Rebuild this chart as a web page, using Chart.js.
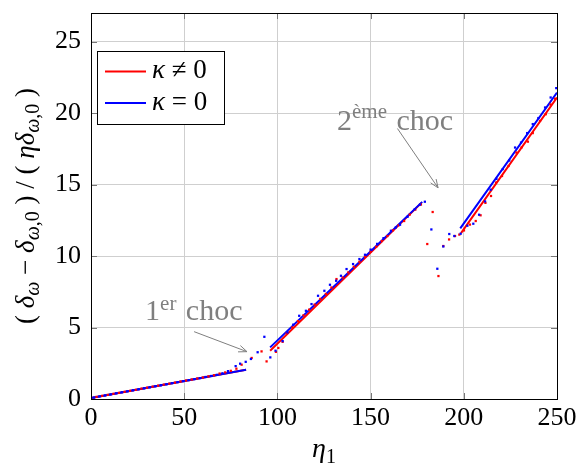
<!DOCTYPE html>
<html>
<head>
<meta charset="utf-8">
<script src="https://cdn.jsdelivr.net/npm/chart.js@4"></script>
<style>
html,body{margin:0;padding:0;background:#fff;}
#wrap{width:579px;height:466px;}
</style>
</head>
<body>
<div id="wrap"><canvas id="c" width="579" height="466"></canvas></div>
<script>
// ---- data ----
const xTicks = [0, 50, 100, 150, 200, 250];
const yTicks = [0, 5, 10, 15, 20, 25];
const seriesNames = ["κ ≠ 0", "κ = 0"];

// fitted line segments (null = gap between shocks)
const redLineX  = [0, 83.2, 89, 96.1, 177.3, 188, 198.5, 250];
const redLineY  = [0.07, 2.05, null, 3.38, 13.72, null, 11.6, 21.09];
const blueLineX = [0, 83.2, 89, 96.1, 177.7, 188, 198.1, 250];
const blueLineY = [0.07, 2.05, null, 3.61, 13.79, null, 11.93, 21.43];

// simulated points, kappa != 0 (red)
const redDotX = [0,3,6,9,12,15,18,21,24,27,30,33,36,39,42,45,48,51,54,57,60,63,66,69,72,75,78,80.8,86.2,91.5,94.2,99.2,100.5,102.8,105,108,111,114,117,120,123,126,129,131.7,135,138,141,144,147,150,153,156,159,162,165,168,171,174,177,180.4,183.3,186.4,189,192.1,195.3,197.6,200.1,203.3,206.4,209,211.6,214.6,217.3,220.5,224,228.2,231,234.4,237,240.9,244,246.5,249];
const redDotY = [0.08,0.15,0.22,0.29,0.36,0.43,0.5,0.57,0.64,0.72,0.79,0.86,0.93,1.0,1.07,1.14,1.22,1.29,1.36,1.43,1.5,1.58,1.66,1.78,1.86,1.97,2.12,2.4,2.87,3.33,2.63,3.3,3.57,4.0,4.6,5.0,5.45,5.85,6.25,6.6,7.0,7.35,7.8,8.39,8.5,8.85,9.25,9.6,9.95,10.3,10.65,11.05,11.4,11.8,12.15,12.45,12.9,13.25,13.6,10.84,13.08,8.6,10.7,11.16,11.4,11.5,11.79,12.2,12.45,12.85,13.72,14.2,15.14,15.6,16.3,17.24,17.6,18.0,18.6,19.45,19.92,20.6,21.0];

// simulated points, kappa = 0 (blue)
const blueDotX = [1.5,4.5,7.5,10.5,13.5,16.5,19.5,22.5,25.5,28.5,31.5,34.5,37.5,40.5,43.5,46.5,49.5,52.5,55.5,58.5,61.5,64.5,67.5,70.5,73.5,77.6,80,83,85.8,89.4,93,96.2,99,102.8,105.4,108.5,111.7,115.3,118.3,121.8,125.2,128.2,131.5,134.1,137.1,140.6,144,147,150,153.5,156.9,160.9,163.5,165.8,169.8,173.7,176.5,179.1,182.6,185.8,189,192.2,194.9,198.3,201.9,205.1,208.2,211.4,214.4,217.5,220.9,224.4,227.5,230.7,234,237,240,243.6,246.6,249.6];
const blueDotY = [0.1,0.18,0.25,0.32,0.4,0.47,0.54,0.61,0.68,0.75,0.82,0.89,0.96,1.03,1.11,1.18,1.25,1.32,1.39,1.46,1.54,1.61,1.69,1.8,1.95,2.3,2.47,2.6,2.8,3.27,4.35,2.91,3.38,4.05,4.66,5.2,5.82,6.17,6.64,7.22,7.57,7.99,8.27,8.62,9.09,9.44,9.79,10.09,10.45,10.85,11.25,11.77,12.0,12.19,12.74,13.28,13.6,13.8,11.86,9.11,10.67,11.54,11.4,11.56,12.12,12.26,12.89,13.82,14.64,15.4,16.08,16.68,17.59,17.94,18.6,19.23,19.65,20.39,21.09,21.75];

// ---- helpers ----
const zip = (xs, ys) => xs.map((x, i) => ({x: x, y: ys[i]}));
const SERIF = '"Liberation Serif", "DejaVu Serif", serif';
const RED = '#ff0000', BLUE = '#0000ff', GRAY = '#7f7f7f';
function fnt(p){ return (p.it ? 'italic ' : '') + p.size + 'px ' + SERIF; }
function measureParts(ctx, parts){ let w = 0; for (const p of parts){ ctx.font = fnt(p); w += ctx.measureText(p.t).width + (p.gap || 0); } return w; }
function drawParts(ctx, parts, x, y){ for (const p of parts){ ctx.font = fnt(p); ctx.fillText(p.t, x, y + (p.dy || 0)); x += ctx.measureText(p.t).width + (p.gap || 0); } return x; }
function arrow(ctx, x1, y1, x2, y2){
  ctx.save();
  ctx.strokeStyle = GRAY; ctx.lineWidth = 1;
  ctx.beginPath(); ctx.moveTo(x1, y1); ctx.lineTo(x2, y2); ctx.stroke();
  const a = Math.atan2(y2 - y1, x2 - x1), L = 9, s = 0.38;
  ctx.beginPath();
  ctx.moveTo(x2 - L*Math.cos(a - s), y2 - L*Math.sin(a - s));
  ctx.lineTo(x2, y2);
  ctx.lineTo(x2 - L*Math.cos(a + s), y2 - L*Math.sin(a + s));
  ctx.stroke();
  ctx.restore();
}

const decor = {
  id: 'decor',
  afterDraw(chart){
    const ctx = chart.ctx, ca = chart.chartArea, xs = chart.scales.x, ys = chart.scales.y;
    ctx.save();
    // inner ticks
    ctx.strokeStyle = '#777'; ctx.lineWidth = 1;
    for (const v of xTicks){ const px = Math.round(xs.getPixelForValue(v)) + 0.5;
      ctx.beginPath(); ctx.moveTo(px, ca.bottom); ctx.lineTo(px, ca.bottom - 6); ctx.moveTo(px, ca.top); ctx.lineTo(px, ca.top + 6); ctx.stroke(); }
    for (const v of yTicks){ const py = Math.round(ys.getPixelForValue(v)) + 0.5;
      ctx.beginPath(); ctx.moveTo(ca.left, py); ctx.lineTo(ca.left + 6, py); ctx.moveTo(ca.right, py); ctx.lineTo(ca.right - 6, py); ctx.stroke(); }
    // frame
    ctx.strokeStyle = '#000'; ctx.lineWidth = 1;
    ctx.strokeRect(Math.round(ca.left) + 0.5, Math.round(ca.top) + 0.5, Math.round(ca.right - ca.left), Math.round(ca.bottom - ca.top));

    // legend
    const lx = 97, ly = 51, lw = 127, lh = 73;
    ctx.fillStyle = '#fff'; ctx.fillRect(lx, ly, lw, lh);
    ctx.strokeStyle = '#000'; ctx.strokeRect(lx + 0.5, ly + 0.5, lw, lh);
    ctx.lineWidth = 2;
    ctx.strokeStyle = RED; ctx.beginPath(); ctx.moveTo(105, 71.5); ctx.lineTo(146, 71.5); ctx.stroke();
    ctx.strokeStyle = BLUE; ctx.beginPath(); ctx.moveTo(105, 103); ctx.lineTo(146, 103); ctx.stroke();
    ctx.fillStyle = '#000'; ctx.textBaseline = 'alphabetic'; ctx.textAlign = 'left';
    drawParts(ctx, [{t: 'κ', it: true, size: 27}, {t: ' ≠ 0', size: 27}], 152, 78);
    drawParts(ctx, [{t: 'κ', it: true, size: 27}, {t: ' = 0', size: 27}], 152, 110);

    // annotations
    ctx.fillStyle = GRAY;
    let ax = xs.getPixelForValue(29.0), ay = ys.getPixelForValue(5.5);
    drawParts(ctx, [{t: '1', size: 30}, {t: 'er', size: 21, dy: -10, gap: 2}, {t: ' choc', size: 30}], ax, ay);
    ax = xs.getPixelForValue(132.0); ay = ys.getPixelForValue(18.83);
    drawParts(ctx, [{t: '2', size: 30}, {t: 'ème', size: 21, dy: -12, gap: 2}, {t: ' choc', size: 30}], ax, ay);
    arrow(ctx, xs.getPixelForValue(55.3), ys.getPixelForValue(4.71), xs.getPixelForValue(83.7), ys.getPixelForValue(3.31));
    arrow(ctx, xs.getPixelForValue(164.4), ys.getPixelForValue(18.92), xs.getPixelForValue(186.2), ys.getPixelForValue(14.77));

    // x title
    ctx.fillStyle = '#000';
    const xt = [{t: 'η', it: true, size: 28}, {t: '1', size: 20, dy: 6}];
    const xw = measureParts(ctx, xt);
    drawParts(ctx, xt, (ca.left + ca.right) / 2 - xw / 2, 457);

    // y title
    const S = 27, s = 20, d = 5;
    const yt = [
      {t: '( ', size: S}, {t: 'δ', it: true, size: S}, {t: 'ω', it: true, size: s, dy: d},
      {t: ' − ', size: S}, {t: 'δ', it: true, size: S}, {t: 'ω', it: true, size: s, dy: d}, {t: ',0', size: s, dy: d},
      {t: ' ) / ( ', size: S}, {t: 'η', it: true, size: S}, {t: 'δ', it: true, size: S},
      {t: 'ω', it: true, size: s, dy: d}, {t: ',0', size: s, dy: d}, {t: ' )', size: S}
    ];
    const yw = measureParts(ctx, yt);
    ctx.translate(34, (ca.top + ca.bottom) / 2);
    ctx.rotate(-Math.PI / 2);
    drawParts(ctx, yt, -yw / 2, 0);
    ctx.restore();
  }
};

new Chart(document.getElementById('c'), {
  type: 'line',
  data: {
    datasets: [
      {label: seriesNames[1] + ' pts', data: zip(blueDotX, blueDotY), showLine: false, pointStyle: 'rect', pointRadius: 1.6, pointBorderWidth: 0, pointBackgroundColor: BLUE, borderColor: BLUE},
      {label: seriesNames[0] + ' pts', data: zip(redDotX, redDotY), showLine: false, pointStyle: 'rect', pointRadius: 1.6, pointBorderWidth: 0, pointBackgroundColor: RED, borderColor: RED},
      {label: seriesNames[1], data: zip(blueLineX, blueLineY), borderColor: BLUE, borderWidth: 2, pointRadius: 0, spanGaps: false, tension: 0},
      {label: seriesNames[0], data: zip(redLineX, redLineY), borderColor: RED, borderWidth: 2, pointRadius: 0, spanGaps: false, tension: 0}
    ]
  },
  options: {
    responsive: false,
    animation: false,
    events: [],
    layout: {padding: {top: 13, right: 22, left: 0, bottom: 0}},
    plugins: {legend: {display: false}, tooltip: {enabled: false}},
    scales: {
      x: {
        type: 'linear', min: 0, max: 250,
        afterBuildTicks: sc => { sc.ticks = xTicks.map(v => ({value: v})); },
        afterFit: sc => { sc.height = 67; sc.paddingLeft = 0; sc.paddingRight = 0; },
        grid: {color: '#cfcfcf', lineWidth: 1, drawTicks: false},
        border: {display: false},
        ticks: {color: '#000', padding: 4, maxRotation: 0, font: {family: SERIF, size: 26}}
      },
      y: {
        type: 'linear', min: 0, max: 27,
        afterBuildTicks: sc => { sc.ticks = yTicks.map(v => ({value: v})); },
        afterFit: sc => { sc.width = 91; sc.paddingTop = 0; sc.paddingBottom = 0; },
        grid: {color: '#cfcfcf', lineWidth: 1, drawTicks: false},
        border: {display: false},
        ticks: {color: '#000', padding: 10, font: {family: SERIF, size: 26}}
      }
    }
  },
  plugins: [decor]
});
</script>
</body>
</html>
